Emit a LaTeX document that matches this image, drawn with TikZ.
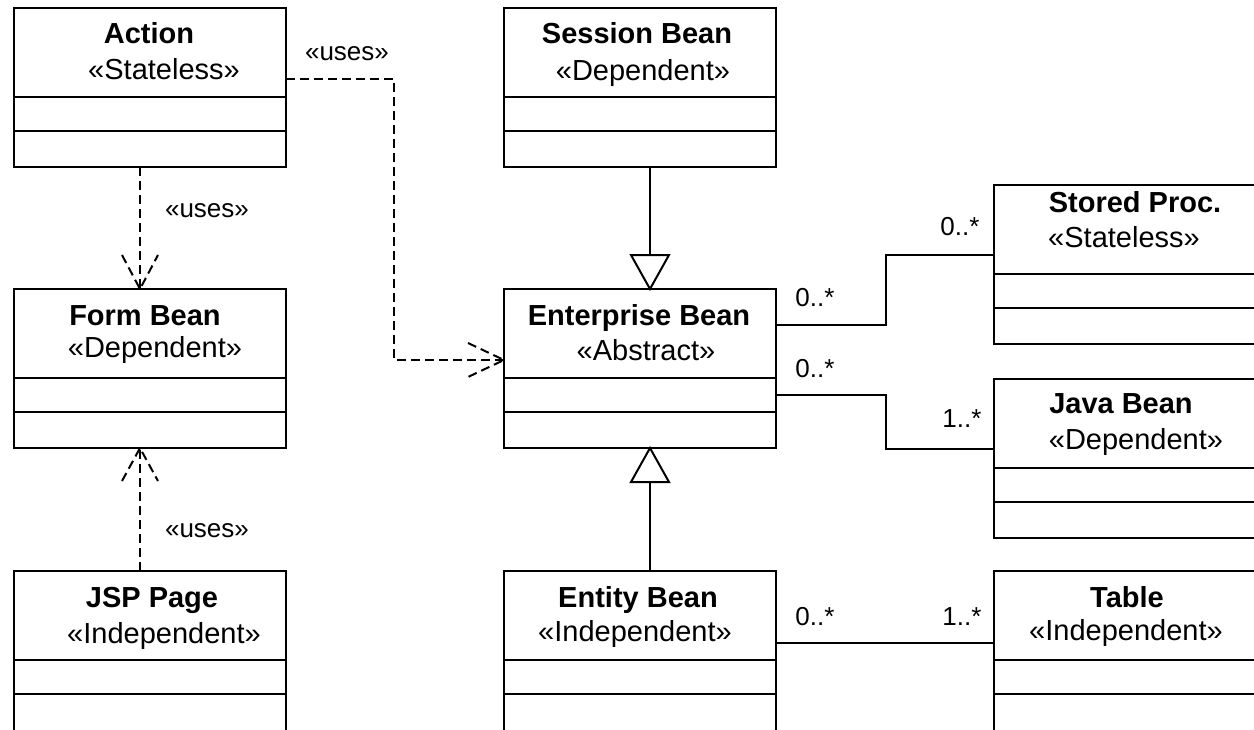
\documentclass[tikz,border=0pt]{standalone}
\usepackage{fontspec}
\setmainfont{Liberation Sans}
\usetikzlibrary{calc}
\begin{document}
\begin{tikzpicture}[x=0.5pt,y=-0.5pt]
\tikzset{
 box/.style={draw, line width=1pt, minimum width=136pt, inner sep=0pt, outer sep=0pt},
 hdr/.style={box, minimum height=44.5pt, anchor=north west},
 compa/.style={box, minimum height=17pt, anchor=north},
 compb/.style={box, minimum height=18pt, anchor=north},
 compc/.style={box, minimum height=24pt, anchor=north},
 ttl/.style={anchor=base, inner sep=0pt, font=\fontsize{14.5}{17}\selectfont\bfseries},
 ster/.style={anchor=base, inner sep=0pt, font=\fontsize{14.5}{17}\selectfont},
 lbl/.style={anchor=base, inner sep=0pt, font=\fontsize{13}{15}\selectfont},
 dep/.style={line width=1pt, dash pattern=on 4.5pt off 2.5pt},
 assoc/.style={line width=1pt},
 gen/.style={line width=1pt, fill=white, line join=miter},
}
\useasboundingbox (0,0) rectangle (1254,729);
\clip (0,0) rectangle (1254,729);
\fill[white] (0,0) rectangle (1254,729);

% ---- classes ----
\node[hdr] (act) at (14,8) {};
\node[compa] (act1) at (act.south) {};
\node[compb] (act2) at (act1.south) {};
\node[ttl] (actt) at (149,43) {Action};
\node[ster] (acts) at (164,79) {«Stateless»};

\node[hdr] (ses) at (504,8) {};
\node[compa] (ses1) at (ses.south) {};
\node[compb] (ses2) at (ses1.south) {};
\node[ttl] (sest) at (637,43) {Session Bean};
\node[ster] (sess) at (643,80) {«Dependent»};

\node[hdr] (form) at (14,289) {};
\node[compa] (form1) at (form.south) {};
\node[compb] (form2) at (form1.south) {};
\node[ttl] (formt) at (145,325) {Form Bean};
\node[ster] (forms) at (155,357) {«Dependent»};

\node[hdr] (ent) at (504,289) {};
\node[compa] (ent1) at (ent.south) {};
\node[compb] (ent2) at (ent1.south) {};
\node[ttl] (entt) at (639,325) {Enterprise Bean};
\node[ster] (ents) at (646,360) {«Abstract»};

\node[hdr] (jsp) at (14,571) {};
\node[compa] (jsp1) at (jsp.south) {};
\node[compc] (jsp2) at (jsp1.south) {};
\node[ttl] (jspt) at (152,607) {JSP Page};
\node[ster] (jsps) at (164,643) {«Independent»};

\node[hdr] (ety) at (504,571) {};
\node[compa] (ety1) at (ety.south) {};
\node[compc] (ety2) at (ety1.south) {};
\node[ttl] (etyt) at (638,607) {Entity Bean};
\node[ster] (etys) at (635,641) {«Independent»};

\node[hdr] (sto) at (994,185) {};
\node[compa] (sto1) at (sto.south) {};
\node[compb] (sto2) at (sto1.south) {};
\node[ttl] (stot) at (1135,212) {Stored Proc.};
\node[ster] (stos) at (1124,247) {«Stateless»};

\node[hdr] (jav) at (994,379) {};
\node[compa] (jav1) at (jav.south) {};
\node[compb] (jav2) at (jav1.south) {};
\node[ttl] (javt) at (1121,413) {Java Bean};
\node[ster] (javs) at (1136,449) {«Dependent»};

\node[hdr] (tab) at (994,571) {};
\node[compa] (tab1) at (tab.south) {};
\node[compc] (tab2) at (tab1.south) {};
\node[ttl] (tabt) at (1127,607) {Table};
\node[ster] (tabs) at (1126,640) {«Independent»};

% ---- dependencies ----
\coordinate (fx) at (140,0);
\draw[dep] (act2.south -| fx) -- (form.north -| fx);
\draw[dep] ($(form.north -| fx)+(-18,-34)$) -- (form.north -| fx) -- ($(form.north -| fx)+(18,-34)$);
\node[lbl] (u1) at (207,217) {«uses»};

\draw[dep] (jsp.north -| fx) -- (form2.south -| fx);
\draw[dep] ($(form2.south -| fx)+(-18,33)$) -- (form2.south -| fx) -- ($(form2.south -| fx)+(18,33)$);
\node[lbl] (u2) at (207,537) {«uses»};

\coordinate (d1) at (394,79);
\coordinate (d2) at (394,360);
\draw[dep] (act.east |- d1) -- (d1) -- (d2) -- (ent.west |- d2);
\draw[dep] ($(ent.west |- d2)+(-36,-17)$) -- (ent.west |- d2) -- ($(ent.west |- d2)+(-36,17)$);
\node[lbl] (u3) at (347,60) {«uses»};

% ---- generalizations ----
\coordinate (gx) at (650,0);
\draw[assoc] (ses2.south -| gx) -- ($(ent.north -| gx)+(0,-34)$);
\draw[gen] (ent.north -| gx) -- ++(-19,-34) -- ++(38,0) -- cycle;
\draw[assoc] (ety.north -| gx) -- ($(ent2.south -| gx)+(0,34)$);
\draw[gen] (ent2.south -| gx) -- ++(-19,34) -- ++(38,0) -- cycle;

% ---- associations ----
\coordinate (a1) at (886,325);
\coordinate (a2) at (886,255);
\draw[assoc] (ent.east |- a1) -- (a1) -- (a2) -- (sto.west |- a2);
\node[lbl] (m1) at (815,306) {0..*};
\node[lbl] (m2) at (960,235) {0..*};

\coordinate (b1) at (886,395);
\coordinate (b2) at (886,449);
\draw[assoc] (ent1.east |- b1) -- (b1) -- (b2) -- (jav.west |- b2);
\node[lbl] (m3) at (815,377) {0..*};
\node[lbl] (m4) at (962,427) {1..*};

\coordinate (c1) at (0,643);
\draw[assoc] (ety.east |- c1) -- (tab.west |- c1);
\node[lbl] (m5) at (815,625) {0..*};
\node[lbl] (m6) at (962,625) {1..*};
\end{tikzpicture}
\end{document}
